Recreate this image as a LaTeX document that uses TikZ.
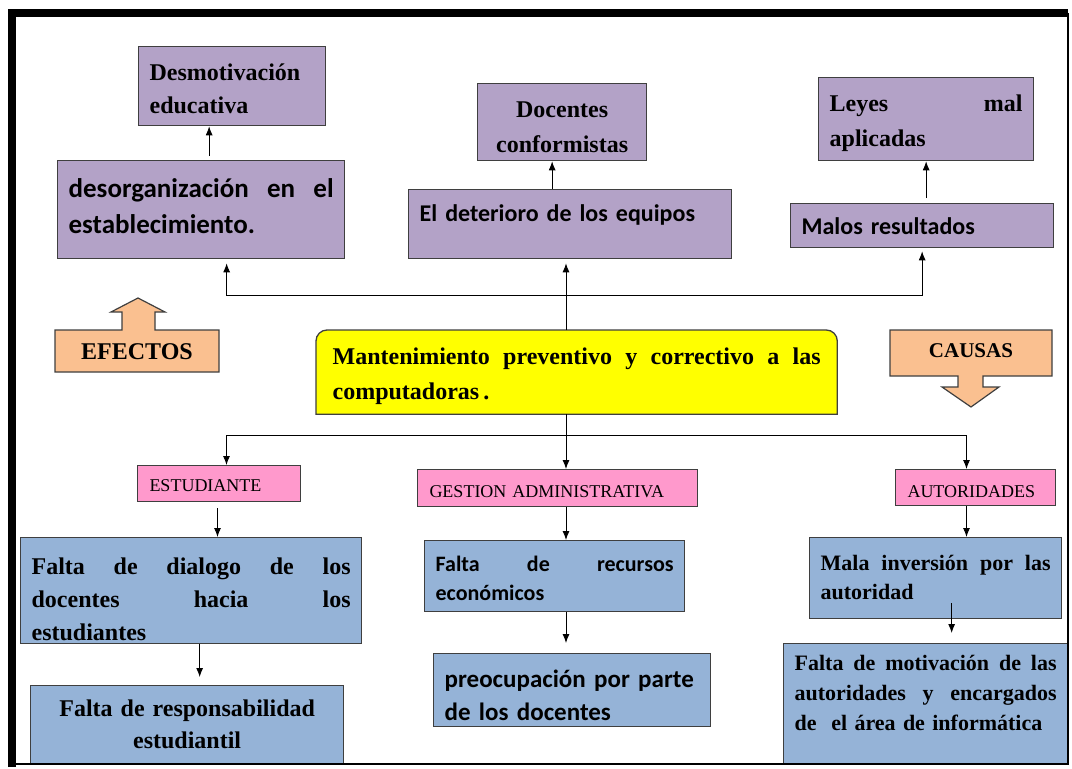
\documentclass[tikz,border=0pt]{standalone}
\usepackage{fontspec}
\setmainfont{Liberation Serif}
\newfontfamily\calib{Carlito}
\usepackage{tikz}
\usetikzlibrary{calc,arrows.meta,backgrounds}
\definecolor{lila}{HTML}{B3A2C7}
\definecolor{celeste}{HTML}{95B3D7}
\definecolor{rosado}{HTML}{FF99CC}
\definecolor{durazno}{HTML}{FAC090}
\definecolor{amarillo}{HTML}{FFFF00}
\definecolor{borde}{HTML}{3F3F3F}

\begin{document}
\begin{tikzpicture}[x=1pt,y=-1pt,
    caja/.style={draw=borde,line width=1.3pt,anchor=north west,inner ysep=0pt,inner xsep=11pt,align=left},
    morado/.style={caja,fill=lila},
    azul/.style={caja,fill=celeste},
    rosa/.style={caja,fill=rosado,line width=1pt,inner xsep=12pt,font=\fontsize{18}{20}\selectfont},
    flecha/.style={-{Latex[length=9pt,width=7pt]},line width=0.9pt}]
\useasboundingbox (0,0) rectangle (1072,769);

\node[morado,font=\bfseries\fontsize{24}{33}\selectfont,text width=165,text height=34,text depth=45] (desmot) at (138,46) {Desmotivación\\educativa};
\node[morado,font=\calib\bfseries\fontsize{27}{36}\selectfont,text width=265,text height=37,text depth=61] (desorg) at (57,160) {desorganización\hfill en\hfill el\\establecimiento.};
\node[morado,font=\bfseries\fontsize{24}{35}\selectfont,text width=147,text height=34,text depth=43,align=center] (docentes) at (477,83) {Docentes\\conformistas};
\node[morado,font=\calib\bfseries\fontsize{24}{30}\selectfont,text width=301,text height=32,text depth=37] (deter) at (408,189) {El deterioro de los equipos};
\node[morado,font=\bfseries\fontsize{24}{35}\selectfont,text width=193,text height=34,text depth=49] (leyes) at (818,77) {Leyes\hfill mal\\aplicadas};
\node[morado,font=\calib\bfseries\fontsize{24}{30}\selectfont,text width=241,text height=31,text depth=13] (malos) at (790,203) {Malos resultados};

\node[caja,draw=none,inner xsep=16pt,font=\bfseries\fontsize{24}{35}\selectfont,text width=488,text height=34,text depth=49] (mant) at (316,330) {Mantenimiento\hfill preventivo\hfill y\hfill correctivo\hfill a\hfill las\\computadoras\,.};
\begin{scope}[on background layer]
\draw[fill=amarillo,draw=borde,line width=1.3pt] (mant.south west) -- ([yshift=-11pt]mant.north west) arc[start angle=180,end angle=90,radius=11pt] -- ([xshift=-11pt]mant.north east) arc[start angle=90,end angle=0,radius=11pt] -- (mant.south east) -- cycle;
\end{scope}

\draw[fill=durazno,draw=borde,line width=1.2pt] (55,372) -- (55,330) -- (122,330) -- (122,312) -- (111,312) -- (138,298) -- (165,312) -- (155,312) -- (155,330) -- (219,330) -- (219,372) -- cycle;
\node[font=\bfseries\fontsize{24}{28}\selectfont] (efectos) at (137,352) {EFECTOS};
\draw[fill=durazno,draw=borde,line width=1.2pt] (890,330) -- (1052,330) -- (1052,376) -- (983,376) -- (983,387) -- (999,387) -- (971,407) -- (942,387) -- (958,387) -- (958,376) -- (890,376) -- cycle;
\node[font=\bfseries\fontsize{21}{24}\selectfont] (causas) at (971,351) {CAUSAS};

\node[rosa,text width=139,text height=26,text depth=10] (estud) at (137,465) {ESTUDIANTE};
\node[rosa,text width=256,text height=28,text depth=9] (gest) at (417,469) {GESTION ADMINISTRATIVA};
\node[rosa,text width=136,text height=28,text depth=8] (auto) at (895,469) {AUTORIDADES};

\node[azul,font=\bfseries\fontsize{24}{33}\selectfont,text width=319,text height=37,text depth=69] (dialogo) at (20,537) {Falta\hfill de\hfill dialogo\hfill de\hfill los\\docentes\hfill hacia\hfill los\\estudiantes};
\node[azul,font=\bfseries\fontsize{24}{32}\selectfont,text width=291,text height=31,text depth=47,align=center] (resp) at (30,685) {Falta de responsabilidad\\estudiantil};
\node[azul,font=\calib\bfseries\fontsize{22}{29}\selectfont,text width=238,text height=31,text depth=40] (recursos) at (424,540) {Falta\hfill de\hfill recursos\\económicos};
\node[azul,font=\calib\bfseries\fontsize{25}{33}\selectfont,text width=255,text height=34,text depth=39] (preoc) at (433,653) {preocupación por parte\\de los docentes};
\node[azul,font=\bfseries\fontsize{22}{29}\selectfont,text width=230,text height=33,text depth=48] (mala) at (809,537) {Mala\hfill inversión\hfill por\hfill las\\autoridad};
\node[azul,font=\bfseries\fontsize{22}{30}\selectfont,text width=262,text height=27,text depth=93] (motiv) at (783,643) {Falta\hfill de\hfill motivación\hfill de\hfill las\\autoridades\hfill y\hfill encargados\\de\ \ el área de informática};

\coordinate (arriba) at (566,295);
\coordinate (abajo) at (566,435);

\draw[flecha] ([xshift=8,yshift=4]desorg.north) -- ([xshift=8]desorg.north |- desmot.south);
\draw[flecha] ([xshift=-18]deter.north) -- ([xshift=-18]deter.north |- docentes.south);
\draw[flecha] ([yshift=5]malos.north -| leyes.south) -- (leyes.south);
\draw[flecha] (mant.north -| arriba) -- ([yshift=-4]arriba |- deter.south);
\draw[flecha] (arriba) -| ([xshift=25.5,yshift=-4]desorg.south);
\draw[flecha] (arriba) -| ([yshift=-3]malos.south);

\draw[line width=0.9pt] (mant.south -| abajo) -- (abajo);
\draw[flecha] (abajo) -- (abajo |- gest.north);
\draw[flecha] (abajo) -| ([xshift=7.5]estud.north);
\draw[flecha] (abajo) -| ([xshift=-9]auto.north);
\draw[flecha] ([xshift=-1.5,yshift=-6]estud.south) -- ([xshift=-1.5]estud.south |- dialogo.north);
\draw[flecha] ([xshift=8.5]dialogo.south) -- ([xshift=8.5,yshift=8]dialogo.south |- resp.north);
\draw[flecha] (gest.south -| abajo) -- (abajo |- recursos.north);
\draw[flecha] (recursos.south -| abajo) -- ([yshift=10]abajo |- preoc.north);
\draw[flecha] ([xshift=-9]auto.south) -- ([xshift=-9]auto.south |- mala.north);
\draw[flecha] ([xshift=16,yshift=16]mala.south) -- ([xshift=16,yshift=10]mala.south |- motiv.north);

\draw[line width=8pt] (12,767) -- (12,13) -- (1068,13);
\draw[line width=1.5pt] (1068,13) -- (1068,764) -- (12,764);
\end{tikzpicture}
\end{document}
